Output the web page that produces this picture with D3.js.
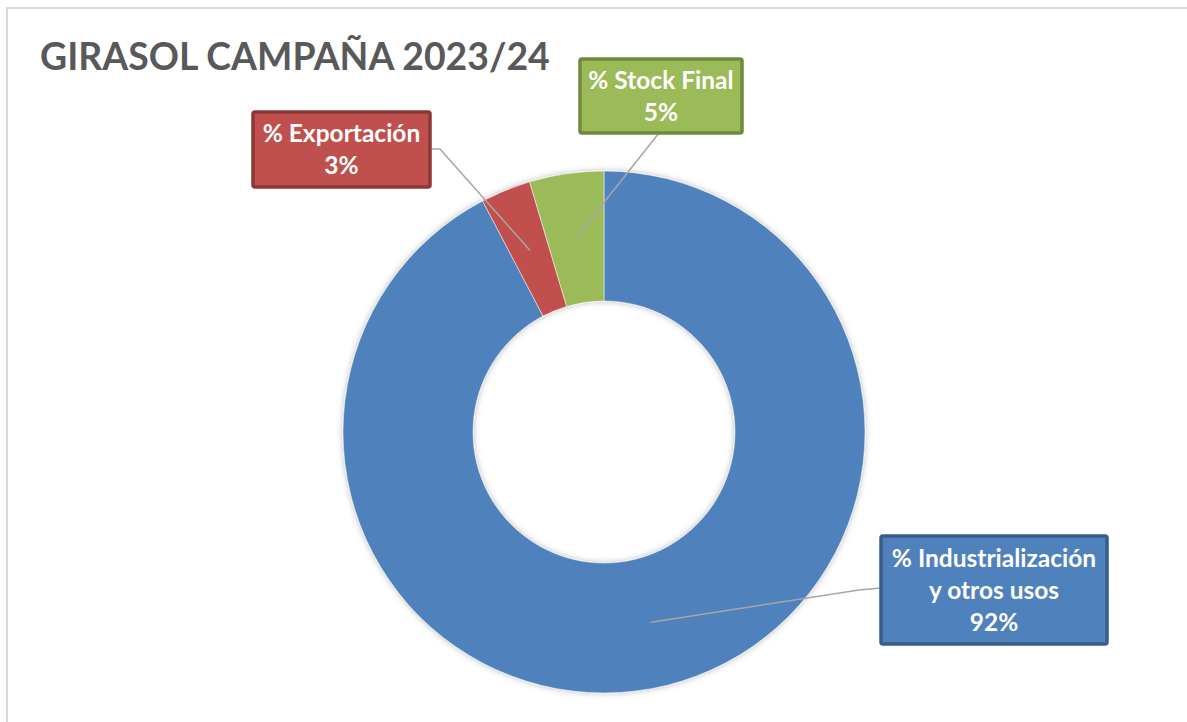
<!DOCTYPE html>
<html>
<head>
<meta charset="utf-8">
<script src="https://d3js.org/d3.v7.min.js"></script>
<style>
  body { margin: 0; background: #fff; }
  text { font-family: Lato, "Open Sans", sans-serif; font-weight: bold; }
</style>
</head>
<body>
<script>
    var width = 1187
    var height = 722

    // data
    var categories = ['% Industrialización y otros usos', '% Exportación', '% Stock Final']
    var labelLines = [['% Industrialización', 'y otros usos', '92%'], ['% Exportación', '3%'], ['% Stock Final', '5%']]
    var values = [92.3, 3.1, 4.6]
    var fills = ['#4f81bd', '#c0504d', '#9bbb59']
    var strokes = ['#385d8a', '#8c3836', '#71893f']

    var svg = d3.select('body').append('svg').attr('width', width).attr('height', height)

    var defs = svg.append('defs')
    var f = defs.append('filter').attr('id', 'shadow').attr('x', '-10%').attr('y', '-10%').attr('width', '120%').attr('height', '120%')
    f.append('feDropShadow').attr('dx', 0).attr('dy', 0).attr('stdDeviation', 3)
        .attr('flood-color', '#000').attr('flood-opacity', 0.28)

    // chart area border
    svg.append('rect').attr('x', 7).attr('y', 8).attr('width', 1300).attr('height', 900)
        .attr('fill', '#fff').attr('stroke', '#d9d9d9').attr('stroke-width', 2)

    var title = svg.append('text').attr('x', 40).attr('y', 70).attr('font-size', 44)
        .attr('fill', '#595959').text('GIRASOL CAMPAÑA 2023/24')
    // fit title to the width it has in the original (~510px)
    var tw = title.node().getComputedTextLength()
    title.attr('font-size', 44 * 510 / tw)

    var cx = 604, cy = 432, outerR = 261, innerR = 131

    var pie = d3.pie().sort(null).value(function(d){ return d })
    var arc = d3.arc().innerRadius(innerR).outerRadius(outerR)
    var arcs = pie(values)

    var g = svg.append('g').attr('transform', 'translate(' + cx + ',' + cy + ')')
    g.append('g').attr('filter', 'url(#shadow)')
        .selectAll('path').data(arcs).enter().append('path')
        .attr('d', arc).attr('fill', function(d, i){ return fills[i] })
        .attr('stroke', '#fff').attr('stroke-width', 0.5)

    // label boxes (layout), index matches categories
    var boxes = [
        {x: 881, y: 536, w: 226, h: 108, anchor: 'left'},
        {x: 253, y: 112, w: 177, h: 75, anchor: 'right'},
        {x: 580, y: 59, w: 162, h: 74, anchor: 'bottom'}
    ]

    // leader lines from slice centroid to box
    arcs.forEach(function(d, i){
        var c = arc.centroid(d)
        var p0 = [cx + c[0], cy + c[1]]
        var b = boxes[i]
        var pts
        if (b.anchor === 'left') {
            pts = [p0, [b.x - 22, b.y + 54], [b.x, b.y + 52]]
        } else if (b.anchor === 'right') {
            pts = [p0, [b.x + b.w + 10, b.y + 37], [b.x + b.w, b.y + 37]]
        } else {
            pts = [p0, [b.x + 79, b.y + b.h]]
        }
        svg.append('path').attr('d', d3.line()(pts))
            .attr('fill', 'none').attr('stroke', '#a6a6a6').attr('stroke-width', 1.5)
    })

    boxes.forEach(function(b, i){
        svg.append('rect').attr('x', b.x).attr('y', b.y).attr('width', b.w).attr('height', b.h)
            .attr('rx', 2).attr('fill', fills[i]).attr('stroke', strokes[i]).attr('stroke-width', 3.5)
        var lines = labelLines[i]
        var lh = 32
        var top = b.y + b.h / 2 - (lines.length - 1) * lh / 2
        lines.forEach(function(t, j){
            svg.append('text').attr('x', b.x + b.w / 2).attr('y', top + j * lh)
                .attr('dy', '0.36em').attr('text-anchor', 'middle').attr('font-size', 24.5)
                .attr('fill', '#fff').text(t)
        })
    })
</script>
</body>
</html>
